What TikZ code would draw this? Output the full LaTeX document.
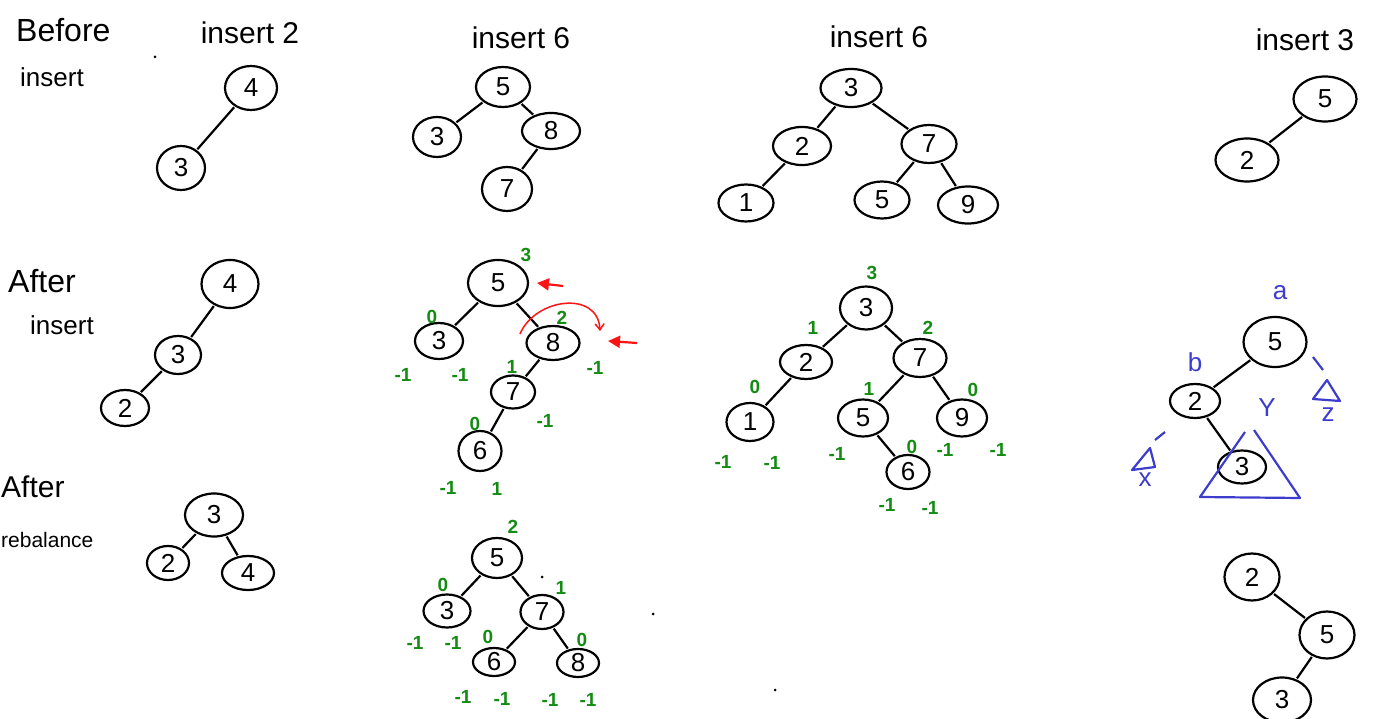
\documentclass[tikz,border=0pt]{standalone}
\usepackage{fontspec}
\setmainfont{Liberation Sans}
\usetikzlibrary{shapes.geometric,arrows.meta}
\definecolor{grn}{RGB}{20,140,20}
\definecolor{blu}{RGB}{60,60,205}
\definecolor{rd}{RGB}{250,20,20}
\begin{document}
\begin{tikzpicture}[x=1pt,y=-1pt,
  nd/.style={draw,ellipse,line width=2.2pt,inner sep=0pt,font=\fontsize{26}{26}\selectfont},
  sz/.style 2 args={minimum width=#1pt,minimum height=#2pt},
  ed/.style={line width=2.2pt,shorten >=1pt,shorten <=1pt},
  gl/.style={text=grn,inner sep=0pt,font=\fontsize{19}{19}\selectfont\bfseries},
  bl/.style={text=blu,inner sep=0pt,font=\fontsize{26}{26}\selectfont},
  hd/.style={inner sep=0pt,font=\fontsize{30}{30}\selectfont},
  rw/.style={inner sep=0pt,anchor=west,font=\fontsize{32}{32}\selectfont},
  dotm/.style={circle,fill=black,inner sep=0pt,minimum size=3pt},
  tri/.style={draw=blu,line width=2.2pt,line join=round}]
\useasboundingbox (0,0) rectangle (1387,719);

% ---------- row labels ----------
\node[rw] (lBefore) at (16,30) {Before};
\node[rw,font=\fontsize{26}{26}\selectfont] (lBins) at (20,77) {insert};
\node[rw] (lAfter) at (8,281) {After};
\node[rw,font=\fontsize{26}{26}\selectfont] (lAins) at (30,325) {insert};
\node[rw,font=\fontsize{30}{30}\selectfont] (lAfter2) at (1,487) {After};
\node[rw,font=\fontsize{21}{21}\selectfont] (lReb) at (1,540) {rebalance};

% ---------- column headings ----------
\node[hd] (h1) at (250,33) {insert 2};
\node[hd] (h2) at (521,38) {insert 6};
\node[hd] (h3) at (879,37) {insert 6};
\node[hd] (h4) at (1305,40) {insert 3};

% stray dots
\node[dotm] (d1) at (155,57) {};
\node[dotm] (d2) at (542,577) {};
\node[dotm] (d3) at (653,614) {};
\node[dotm] (d4) at (775,690) {};

% ================= Column 1 =================
\node[nd,sz={52}{44}] (a4) at (251,88) {4};
\node[nd,sz={48}{44}] (a3) at (181,168) {3};
\draw[ed] (a4) -- (a3);

\node[nd,sz={57}{48}] (b4) at (230,284) {4};
\node[nd,sz={46}{38}] (b3) at (178,355) {3};
\node[nd,sz={48}{36}] (b2) at (125,408) {2};
\draw[ed] (b4) -- (b3);
\draw[ed] (b3) -- (b2);

\node[nd,sz={58}{43}] (c3) at (214,515) {3};
\node[nd,sz={42}{34}] (c2) at (168,563) {2};
\node[nd,sz={52}{34}] (c4) at (248,573) {4};
\draw[ed] (c3) -- (c2);
\draw[ed] (c3) -- (c4);

% ================= Column 2 =================
\node[nd,sz={54}{40}] (d5) at (503,87) {5};
\node[nd,sz={48}{40}] (d3) at (437,137) {3};
\node[nd,sz={58}{36}] (d8) at (551,131) {8};
\node[nd,sz={50}{44}] (d7) at (507,189) {7};
\draw[ed] (d5) -- (d3);
\draw[ed] (d5) -- (d8);
\draw[ed] (d8) -- (d7);

\node[nd,sz={60}{46}] (e5) at (498,283) {5};
\node[nd,sz={48}{36}] (e3) at (439,341) {3};
\node[nd,sz={53}{34}] (e8) at (553,343) {8};
\node[nd,sz={44}{33}] (e7) at (513,392) {7};
\node[nd,sz={43}{40}] (e6) at (480,451) {6};
\draw[ed] (e5) -- (e3);
\draw[ed] (e5) -- (e8);
\draw[ed] (e8) -- (e7);
\draw[ed] (e7) -- (e6);
\node[gl] (e5h) at (526,255) {3};
\node[gl] (e3h) at (432,317) {0};
\node[gl] (e8h) at (562,318) {2};
\node[gl] (e7h) at (512,367) {1};
\node[gl] (e6h) at (475,424) {0};
\node[gl] (e3l) at (403,375) {-1};
\node[gl] (e3r) at (460,375) {-1};
\node[gl] (e8r) at (595,368) {-1};
\node[gl] (e7r) at (545,421) {-1};
\node[gl] (e6l) at (448,488) {-1};
\node[gl] (e6r) at (497,489) {1};
% red marks
\coordinate (ra1s) at (563,286);
\coordinate (ra1e) at (537,283);
\coordinate (ra2s) at (637,343);
\coordinate (ra2e) at (608,341);
\draw[rd,line width=2.2pt,-{Triangle[length=12pt,width=12pt]}] (ra1s) -- (ra1e);
\draw[rd,line width=2.2pt,-{Triangle[length=12pt,width=12pt]}] (ra2s) -- (ra2e);
\coordinate (rc1) at (520,334);
\coordinate (rc2) at (600,331);
\draw[rd,line width=1.5pt,-{Straight Barb[length=6pt,width=9pt]}] (rc1) .. controls (535,298) and (598,290) .. (rc2);

\node[nd,sz={50}{40}] (f5) at (497,558) {5};
\node[nd,sz={47}{33}] (f3) at (447,611) {3};
\node[nd,sz={43}{34}] (f7) at (542,612) {7};
\node[nd,sz={42}{28}] (f6) at (494,662) {6};
\node[nd,sz={42}{28}] (f8) at (578,663) {8};
\draw[ed] (f5) -- (f3);
\draw[ed] (f5) -- (f7);
\draw[ed] (f7) -- (f6);
\draw[ed] (f7) -- (f8);
\node[gl] (f5h) at (513,527) {2};
\node[gl] (f3h) at (443,585) {0};
\node[gl] (f7h) at (561,588) {1};
\node[gl] (f6h) at (488,637) {0};
\node[gl] (f8h) at (582,640) {0};
\node[gl] (f3l) at (415,643) {-1};
\node[gl] (f3r) at (453,643) {-1};
\node[gl] (f6l) at (463,697) {-1};
\node[gl] (f6r) at (502,699) {-1};
\node[gl] (f8l) at (550,700) {-1};
\node[gl] (f8r) at (588,700) {-1};

% ================= Column 3 =================
\node[nd,sz={61}{38}] (g3) at (851,88) {3};
\node[nd,sz={58}{38}] (g2) at (802,146) {2};
\node[nd,sz={55}{38}] (g7) at (929,144) {7};
\node[nd,sz={55}{37}] (g1) at (746,203) {1};
\node[nd,sz={55}{37}] (g5) at (882,200) {5};
\node[nd,sz={60}{37}] (g9) at (968,205) {9};
\draw[ed] (g3) -- (g2);
\draw[ed] (g3) -- (g7);
\draw[ed] (g2) -- (g1);
\draw[ed] (g7) -- (g5);
\draw[ed] (g7) -- (g9);

\node[nd,sz={52}{43}] (k3) at (866,308) {3};
\node[nd,sz={52}{34}] (k2) at (806,362) {2};
\node[nd,sz={53}{38}] (k7) at (920,358) {7};
\node[nd,sz={47}{38}] (k1) at (750,422) {1};
\node[nd,sz={50}{37}] (k5) at (863,418) {5};
\node[nd,sz={50}{37}] (k9) at (962,418) {9};
\node[nd,sz={43}{34}] (k6) at (908,472) {6};
\draw[ed] (k3) -- (k2);
\draw[ed] (k3) -- (k7);
\draw[ed] (k2) -- (k1);
\draw[ed] (k7) -- (k5);
\draw[ed] (k7) -- (k9);
\draw[ed] (k5) -- (k6);
\node[gl] (k3h) at (872,273) {3};
\node[gl] (k2h) at (813,328) {1};
\node[gl] (k7h) at (928,328) {2};
\node[gl] (k1h) at (755,387) {0};
\node[gl] (k5h) at (869,389) {1};
\node[gl] (k9h) at (973,390) {0};
\node[gl] (k6h) at (912,447) {0};
\node[gl] (k1l) at (723,462) {-1};
\node[gl] (k1r) at (772,463) {-1};
\node[gl] (k5l) at (837,454) {-1};
\node[gl] (k9l) at (945,450) {-1};
\node[gl] (k9r) at (998,450) {-1};
\node[gl] (k6l) at (887,505) {-1};
\node[gl] (k6r) at (930,508) {-1};

% ================= Column 4 =================
\node[nd,sz={63}{45}] (m5) at (1325,99) {5};
\node[nd,sz={63}{43}] (m2) at (1247,160) {2};
\draw[ed] (m5) -- (m2);

\node[nd,sz={63}{50}] (n5) at (1275,342) {5};
\node[nd,sz={50}{34}] (n2) at (1195,401) {2};
\node[nd,sz={48}{33}] (n3) at (1242,467) {3};
\draw[ed] (n5) -- (n2);
\draw[ed] (n2) -- (n3);
\node[bl] (na) at (1280,293) {a};
\node[bl] (nb) at (1195,362) {b};
\node[bl] (ny) at (1267,408) {Y};
\node[bl] (nz) at (1328,415) {z};
\node[bl] (nx) at (1145,480) {x};
% subtree triangles
\draw[tri] (1245,432) -- (1200,497) -- (1300,498) -- (1254,430);
\draw[tri] (1327,380) -- (1313,399) -- (1340,401) -- cycle;
\draw[tri] (1313,357) -- (1323,370);
\draw[tri] (1150,448) -- (1132,470) -- (1155,467) -- cycle;
\draw[tri] (1155,440) -- (1165,432);

\node[nd,sz={55}{47}] (p2) at (1252,577) {2};
\node[nd,sz={55}{47}] (p5) at (1327,635) {5};
\node[nd,sz={58}{45}] (p3) at (1282,700) {3};
\draw[ed] (p2) -- (p5);
\draw[ed] (p5) -- (p3);
\end{tikzpicture}
\end{document}
